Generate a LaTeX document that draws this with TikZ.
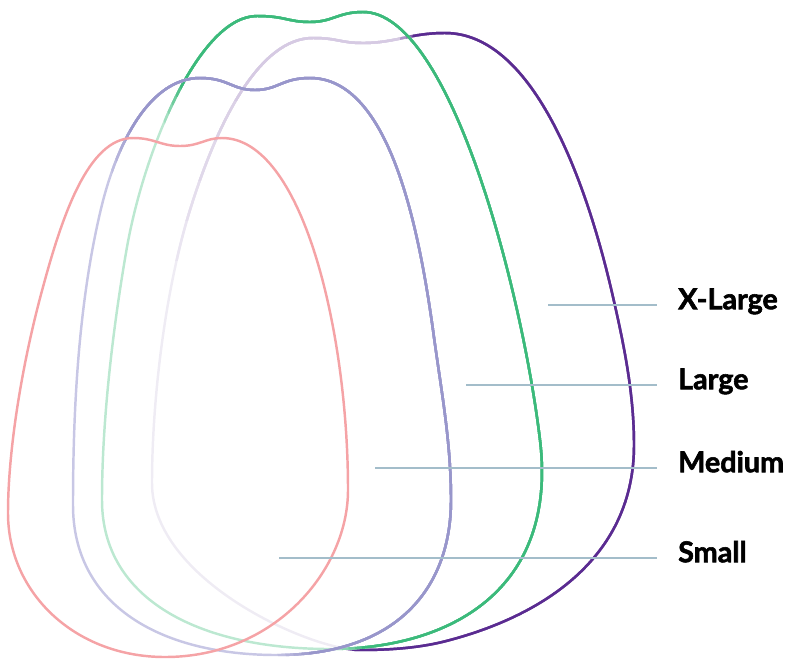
\documentclass[tikz,border=0pt]{standalone}
\usepackage{fontspec}
\setmainfont{Lato}
\newfontfamily\labelfont{Lato}[BoldFeatures={FakeBold=2}]
\usepackage{xcolor}
\usepackage{tikz}
\usetikzlibrary{positioning}
\definecolor{smallpink}{HTML}{F5A3A6}
\definecolor{medlav}{HTML}{9896CB}
\definecolor{medlavlight}{HTML}{C8C7E5}
\definecolor{largegreen}{HTML}{3BBA7B}
\definecolor{largegreenlight}{HTML}{BCE8D1}
\definecolor{xlpurple}{HTML}{5A2B91}
\definecolor{xllilac}{HTML}{D6CAE3}
\definecolor{xlfaint}{HTML}{EFECF4}
\definecolor{leadgrey}{HTML}{A3BDCA}

% outlines, in pixel units of the picture
\newcommand{\smallpath}{(133,138) .. controls (155,138) and (160,146) .. (180,146)
  .. controls (200,146) and (205,138) .. (222,138)
  .. controls (302,138) and (348,330) .. (348,490)
  .. controls (348,570) and (275,657) .. (165,657)
  .. controls (75,657) and (8,593) .. (8,513)
  .. controls (8,453) and (21,367) .. (43,287)
  .. controls (62,217) and (88,138) .. cycle}
\newcommand{\medpath}{(200,78) .. controls (228,78) and (232,90) .. (255,90)
  .. controls (278,90) and (282,78) .. (310,78)
  .. controls (390,78) and (419,230) .. (433,330)
  .. controls (441,390) and (451,440) .. (451,500)
  .. controls (451,590) and (395,655) .. (277,655)
  .. controls (160,655) and (73,605) .. (73,505)
  .. controls (73,405) and (79,303) .. (100,213)
  .. controls (116,143) and (150,78) .. cycle}
\newcommand{\largepath}{(257,16) .. controls (285,16) and (288,22) .. (310,22)
  .. controls (333,22) and (338,12) .. (363,12)
  .. controls (450,12) and (522,290) .. (540,440)
  .. controls (558,590) and (450,649) .. (330,649)
  .. controls (200,649) and (102,600) .. (102,500)
  .. controls (102,420) and (113,327) .. (127,247)
  .. controls (145,147) and (200,16) .. cycle}
\newcommand{\xlpath}{(313,38) .. controls (338,38) and (340,43) .. (363,43)
  .. controls (395,43) and (410,33) .. (445,33)
  .. controls (535,33) and (588,187) .. (613,297)
  .. controls (624.5,347) and (634,395) .. (634,445)
  .. controls (634,555) and (547,614) .. (450,640)
  .. controls (421,648) and (390,650) .. (360,650)
  .. controls (310,650) and (152,580) .. (152,483)
  .. controls (152,400) and (165,290) .. (190,210)
  .. controls (218,120) and (260,38) .. cycle}

% stroke that darkens to the right of a slanted line: path, from, to, x start, x end, slope, steps
\newcommand{\gradstroke}[7]{%
  \foreach \k in {1,...,#7}{
    \pgfmathsetmacro\xs{#4+(#5-#4)*\k/#7}
    \pgfmathtruncatemacro\pct{100*\k/#7}
    \begin{scope}
      \clip ({\xs-#6*20},-20) -- (1400,-20) -- (1400,680) -- ({\xs+#6*680},680) -- cycle;
      \draw[outline, draw=#3!\pct!#2] #1;
    \end{scope}
  }
}

\begin{document}
\begin{tikzpicture}[
    x=0.3mm, y=-0.3mm,
    outline/.style={line width=2.1pt},
    leader/.style={draw=leadgrey, line width=2pt},
    size label/.style={anchor=west, font=\labelfont\bfseries\fontsize{24.5}{29}\selectfont, inner xsep=6.3mm, inner ysep=0pt, text height=0.72em, text depth=0pt}
]
    \useasboundingbox (0,0) rectangle (786,658);

    % X-Large
    \draw[outline, draw=xlfaint] \xlpath;
    \foreach \k in {1,...,5}{
        \pgfmathtruncatemacro\pct{20*\k}
        \begin{scope}
            \clip (-20,-20) rectangle (820,{300-40*\k});
            \draw[outline, draw=xllilac!\pct!xlfaint] \xlpath;
        \end{scope}
    }
    \gradstroke{\xlpath}{xllilac}{xlpurple}{398}{416}{-0.098}{3}

    % Large
    \draw[outline, draw=largegreenlight] \largepath;
    \gradstroke{\largepath}{largegreenlight}{largegreen}{118}{152}{0.324}{5}

    % Medium
    \draw[outline, draw=medlavlight] \medpath;
    \gradstroke{\medpath}{medlavlight}{medlav}{45}{85}{0.343}{5}

    % Small
    \draw[outline, draw=smallpink] \smallpath;

    % labels
    \node[size label] (xl) at (657,305) {X-Large};
    \node[size label] (lg) at (657,385) {Large};
    \node[size label] (md) at (657,468) {Medium};
    \node[size label] (sm) at (657,558) {Small};

    \coordinate (xl-in) at (548,305);
    \coordinate (lg-in) at (466,385);
    \coordinate (md-in) at (375,468);
    \coordinate (sm-in) at (279,558);

    \draw[leader] (xl-in) -- (xl.west);
    \draw[leader] (lg-in) -- (lg.west);
    \draw[leader] (md-in) -- (md.west);
    \draw[leader] (sm-in) -- (sm.west);
\end{tikzpicture}
\end{document}
